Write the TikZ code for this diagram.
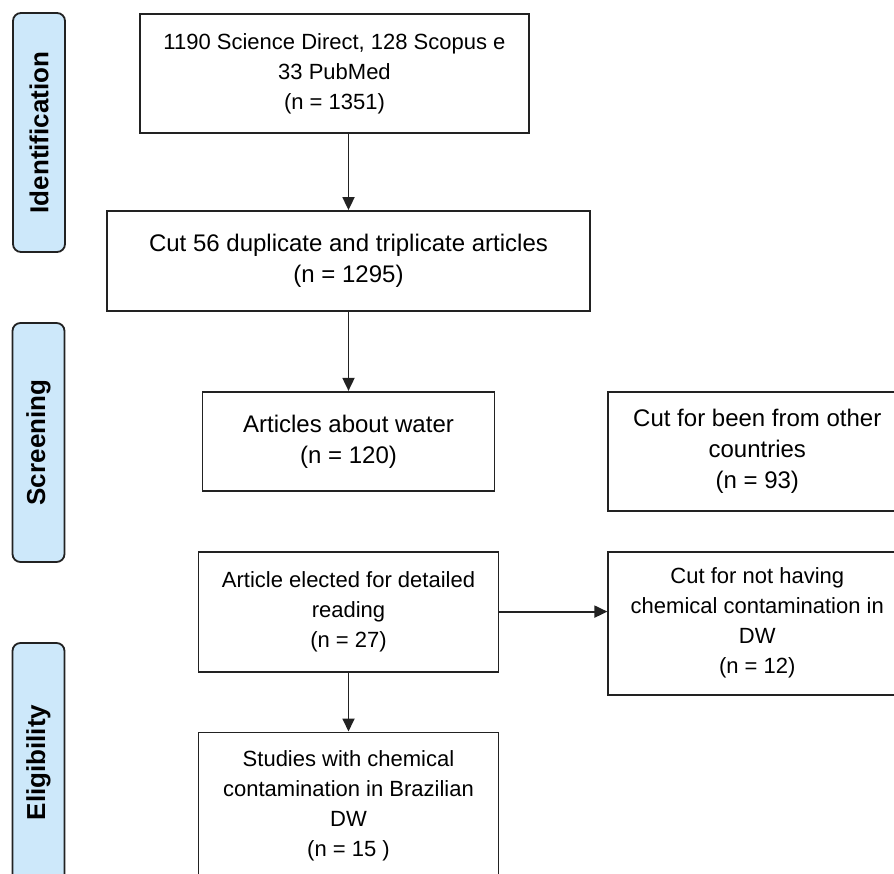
\documentclass[tikz,border=0pt]{standalone}
\usepackage{fontspec}
\setmainfont{Liberation Sans}
\usepackage{xcolor}
\definecolor{phaseblue}{HTML}{CDE8FA}
\definecolor{linegray}{HTML}{222222}
\usepackage{tikz}
\usetikzlibrary{arrows.meta}
\usetikzlibrary{positioning}

\begin{document}
\begin{tikzpicture}[x=1pt,y=-1pt,
    box/.style={draw=linegray,line width=1.8pt,align=center,inner sep=0pt},
    small/.style={font=\fontsize{22}{30}\selectfont},
    large/.style={font=\fontsize{24}{31}\selectfont},
    phase/.style={draw=linegray,fill=phaseblue,line width=1.8pt,rounded corners=8pt,
        rotate=90,minimum width=239pt,minimum height=52pt,inner sep=0pt,
        font=\fontsize{26}{30}\selectfont\bfseries},
    flow/.style={draw=linegray,line width=1.8pt,
        -{Triangle[length=13pt,width=12pt]}}]
    \useasboundingbox[fill=white] (0,0) rectangle (894,874);

    % phases
    \node[phase] (ident)  at (39,132.5) {Identification};
    \node[phase] (screen) at (38.5,442.5) {Screening};
    \node[phase] (elig)   at (38.5,762.5) {Eligibility};

    % flow boxes
    \node[box,small,minimum width=389pt,minimum height=119pt] (src) at (334.5,73.5)
        {1190 Science Direct, 128 Scopus e\\33 PubMed\\(n = 1351)};
    \node[box,large,minimum width=483pt,minimum height=100pt] (dedup) at (348.5,261)
        {Cut 56 duplicate and triplicate articles\\(n = 1295)};
    \node[box,large,minimum width=292pt,minimum height=99pt] (water) [below=79pt of dedup]
        {Articles about water\\(n = 120)};
    \node[box,large,minimum width=298pt,minimum height=119pt] (foreign)
        [right=112pt of water.north east,anchor=north west]
        {Cut for been from other\\countries\\(n = 93)};
    \node[box,small,minimum width=300pt,minimum height=120pt] (elected) [below=59pt of water]
        {Article elected for detailed\\reading\\(n = 27)};
    \node[box,small,minimum width=298pt,minimum height=143pt] (nochem)
        [right=108pt of elected.north east,anchor=north west]
        {Cut for not having\\chemical contamination in\\DW\\(n = 12)};
    \node[box,small,minimum width=300pt,minimum height=146pt] (studies) [below=59pt of elected]
        {Studies with chemical\\contamination in Brazilian\\DW\\(n = 15 )};

    \path (src.south -| dedup.north) edge[flow] (dedup.north)
          (dedup) edge[flow] (water)
          (elected) edge[flow] (elected -| nochem.west)
          (elected) edge[flow] (studies);
\end{tikzpicture}
\end{document}
